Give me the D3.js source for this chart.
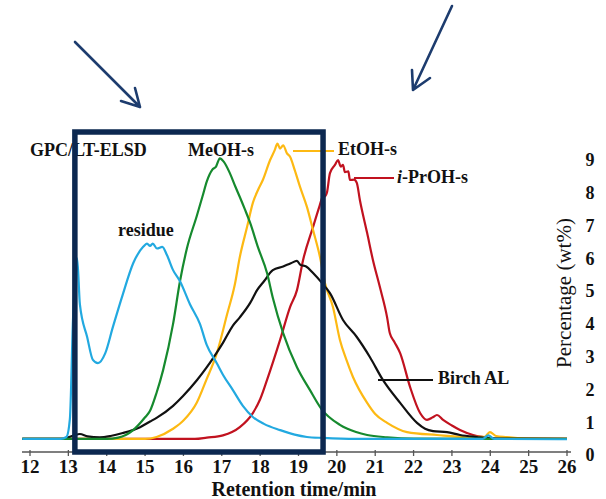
<!DOCTYPE html>
<html>
<head>
<meta charset="utf-8">
<script src="https://cdn.jsdelivr.net/npm/d3@7"></script>
<style>
  html, body { margin: 0; padding: 0; background: #fff; }
  svg { display: block; }
  text { font-family: "Liberation Serif", "Times New Roman", serif; }
</style>
</head>
<body>
<div id="chart"></div>
<script>
// ---- data ----
const xTicks = [12, 13, 14, 15, 16, 17, 18, 19, 20, 21, 22, 23, 24, 25, 26];
const yTicks = [0, 1, 2, 3, 4, 5, 6, 7, 8, 9];

const residue = [[11.8,0.49],[12.8,0.49],[12.95,0.55],[13.04,1.1],[13.12,4.1],[13.2,5.9],[13.23,6.0],[13.3,4.6],[13.49,3.6],[13.64,2.9],[13.77,2.8],[13.96,3.1],[14.16,3.9],[14.42,4.9],[14.69,5.85],[14.95,6.35],[15.05,6.45],[15.13,6.38],[15.2,6.45],[15.31,6.3],[15.45,6.35],[15.57,6.1],[15.73,5.64],[15.91,5.3],[16.17,4.6],[16.43,4.0],[16.61,3.35],[16.87,2.8],[17.03,2.45],[17.29,1.98],[17.55,1.5],[17.81,1.16],[18.1,0.95],[18.52,0.76],[18.9,0.62],[19.22,0.55],[19.64,0.52],[20.5,0.49],[23.8,0.49],[23.95,0.6],[24.1,0.49],[26,0.48]];

const meohS = [[11.8,0.49],[14.0,0.49],[14.3,0.53],[14.69,0.76],[15.0,1.15],[15.13,1.35],[15.3,1.9],[15.47,2.59],[15.73,4.0],[15.91,5.3],[16.09,6.3],[16.35,7.3],[16.5,7.9],[16.61,8.35],[16.75,8.7],[16.85,8.8],[16.95,9.05],[17.05,8.95],[17.21,8.6],[17.35,8.2],[17.47,7.87],[17.6,7.5],[17.74,7.08],[17.94,6.35],[18.18,5.55],[18.33,4.8],[18.6,3.72],[18.96,2.68],[19.3,1.98],[19.6,1.4],[20.08,0.92],[20.5,0.7],[20.79,0.61],[21.31,0.54],[22,0.5],[26,0.49]];

const etohS = [[11.8,0.49],[15.0,0.49],[15.3,0.55],[15.73,0.8],[16.0,1.05],[16.35,1.6],[16.6,2.3],[16.87,3.1],[17.14,4.3],[17.34,5.2],[17.47,6.04],[17.66,6.96],[17.81,7.69],[17.95,8.1],[18.07,8.39],[18.26,9.0],[18.38,9.3],[18.45,9.5],[18.52,9.35],[18.6,9.45],[18.7,9.2],[18.78,9.1],[18.9,8.7],[19.04,8.18],[19.22,7.57],[19.38,6.86],[19.56,6.04],[19.69,5.25],[19.9,4.51],[20.08,3.51],[20.25,2.9],[20.42,2.38],[20.79,1.59],[21.0,1.25],[21.31,0.98],[21.83,0.7],[22.61,0.61],[23.39,0.55],[23.85,0.55],[23.99,0.7],[24.15,0.58],[24.43,0.55],[25.0,0.5],[26,0.49]];

const iprohS = [[11.8,0.49],[16.3,0.49],[16.61,0.53],[17.03,0.6],[17.47,0.85],[17.81,1.28],[18.0,1.7],[18.18,2.29],[18.52,3.51],[18.78,4.51],[18.96,5.03],[19.12,5.95],[19.38,6.96],[19.55,7.6],[19.62,7.85],[19.7,7.9],[19.74,8.0],[19.82,8.6],[19.95,8.85],[20.03,9.0],[20.1,8.8],[20.16,8.85],[20.21,8.63],[20.3,8.65],[20.34,8.39],[20.45,8.4],[20.52,8.3],[20.6,7.78],[20.79,6.77],[20.94,5.95],[21.12,5.13],[21.31,4.2],[21.38,3.72],[21.5,3.45],[21.65,3.11],[21.91,2.07],[22.17,1.28],[22.35,1.07],[22.5,1.15],[22.61,1.22],[22.77,1.07],[23.0,0.9],[23.21,0.76],[23.55,0.61],[23.81,0.55],[24.2,0.5],[26,0.49]];

const birchAL = [[11.8,0.49],[12.8,0.49],[12.96,0.52],[13.15,0.6],[13.3,0.64],[13.5,0.57],[13.82,0.54],[14.1,0.58],[14.42,0.67],[14.87,0.85],[15.13,1.02],[15.31,1.14],[15.73,1.5],[15.99,1.8],[16.35,2.28],[16.61,2.68],[16.77,2.95],[17.03,3.42],[17.29,3.95],[17.47,4.2],[17.74,4.64],[17.92,5.03],[18.1,5.3],[18.33,5.64],[18.6,5.75],[18.8,5.85],[18.96,5.92],[19.05,5.8],[19.2,5.75],[19.38,5.55],[19.61,5.25],[19.82,4.94],[20.16,4.12],[20.52,3.6],[20.86,2.99],[21.2,2.29],[21.65,1.59],[22.09,0.98],[22.3,0.8],[22.51,0.73],[22.87,0.7],[23.21,0.61],[23.65,0.55],[24.2,0.5],[26,0.49]];

const seriesNames = ["i-PrOH-s", "EtOH-s", "Birch AL", "MeOH-s", "residue"];
const seriesColors = ["#c1121f", "#fdb913", "#111111", "#168a2e", "#22a9e0"];
const seriesData = [iprohS, etohS, birchAL, meohS, residue];

// ---- drawing ----
const W = 606, H = 499;
const svg = d3.select("#chart").append("svg").attr("width", W).attr("height", H);

const x = d3.scaleLinear().domain([12, 26]).range([30, 567]);
const y = d3.scaleLinear().domain([0, 9]).range([455, 160]);

// x axis
const xAxisG = svg.append("g").attr("transform", "translate(0,452)");
xAxisG.append("line").attr("x1", 22).attr("x2", 571).attr("y1", 0).attr("y2", 0)
  .attr("stroke", "#555").attr("stroke-width", 1.5);
xAxisG.selectAll("line.tick").data(xTicks).enter().append("line")
  .attr("class", "tick")
  .attr("x1", d => x(d)).attr("x2", d => x(d))
  .attr("y1", -2).attr("y2", 4)
  .attr("stroke", "#555").attr("stroke-width", 1.3);
xAxisG.selectAll("text").data(xTicks).enter().append("text")
  .attr("x", d => x(d)).attr("y", 21)
  .attr("text-anchor", "middle")
  .attr("font-size", 19).attr("font-weight", "bold").attr("fill", "#111")
  .text(d => d);

svg.append("text").attr("x", 294).attr("y", 496)
  .attr("text-anchor", "middle").attr("font-size", 20).attr("font-weight", "bold")
  .attr("fill", "#111").text("Retention time/min");

// right y axis labels
svg.selectAll("text.ytick").data(yTicks).enter().append("text")
  .attr("class", "ytick")
  .attr("x", 590).attr("y", d => y(d)).attr("dy", "0.35em")
  .attr("text-anchor", "middle")
  .attr("font-size", 18).attr("font-weight", "bold").attr("fill", "#111")
  .text(d => d);

svg.append("text")
  .attr("transform", "translate(571,293) rotate(-90)")
  .attr("text-anchor", "middle").attr("font-size", 21).attr("fill", "#111")
  .text("Percentage (wt%)");

// curves
const line = d3.line().x(d => x(d[0])).y(d => y(d[1])).curve(d3.curveMonotoneX);
svg.selectAll("path.series").data(seriesData).enter().append("path")
  .attr("class", "series")
  .attr("d", d => line(d))
  .attr("fill", "none")
  .attr("stroke", (d, i) => seriesColors[i])
  .attr("stroke-width", 2.2)
  .attr("stroke-linejoin", "round");

// labels
const lab = (tx, ty, txt, opts = {}) => {
  const t = svg.append("text").attr("x", tx).attr("y", ty)
    .attr("font-size", opts.size || 18).attr("font-weight", "bold").attr("fill", "#111");
  if (opts.italicPrefix) {
    t.append("tspan").attr("font-style", "italic").text(opts.italicPrefix);
  }
  t.append("tspan").text(txt);
  return t;
};
lab(30, 156, "GPC/LT-ELSD");
lab(188, 156, "MeOH-s");
lab(338, 155, "EtOH-s");
lab(397, 183, "-PrOH-s", { italicPrefix: "i" });
lab(118, 236, "residue");
lab(438, 384, "Birch AL");

svg.append("line").attr("x1", 293).attr("x2", 334).attr("y1", 151).attr("y2", 151)
  .attr("stroke", seriesColors[1]).attr("stroke-width", 2.2);
svg.append("line").attr("x1", 354).attr("x2", 394).attr("y1", 178).attr("y2", 178)
  .attr("stroke", seriesColors[0]).attr("stroke-width", 2.2);
svg.append("line").attr("x1", 378).attr("x2", 433).attr("y1", 380).attr("y2", 380)
  .attr("stroke", seriesColors[2]).attr("stroke-width", 2.2);

// highlight box
const navy = "#0c2850";
svg.append("rect")
  .attr("x", x(13.17)).attr("y", 132)
  .attr("width", x(19.64) - x(13.17)).attr("height", 452 - 132)
  .attr("fill", "none").attr("stroke", navy).attr("stroke-width", 5.5);

// arrows
const arrowColor = "#1d3c6e";
const arrow = (p) => svg.append("path").attr("d", p).attr("fill", "none")
  .attr("stroke", arrowColor).attr("stroke-width", 2.6).attr("stroke-linecap", "round")
  .attr("stroke-linejoin", "round");
arrow("M75,42 L140,107 M135,88 L140,107 L121,101");
arrow("M452,6 L413,90 M412,70 L413,90 L430,78");
</script>
</body>
</html>
